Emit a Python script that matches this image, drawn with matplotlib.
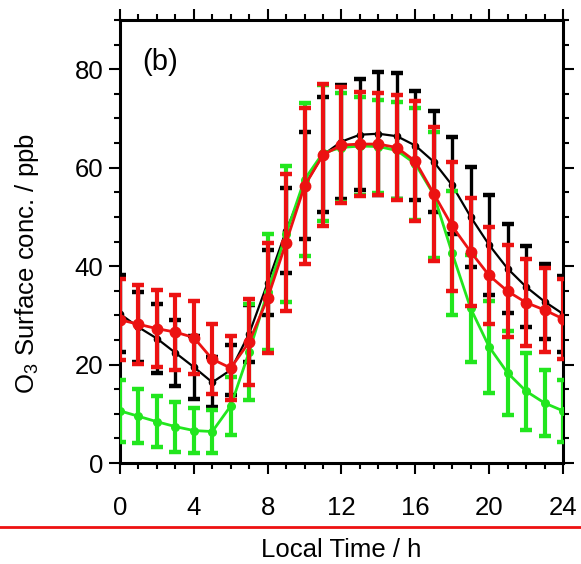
import numpy as np
import matplotlib.pyplot as plt
from matplotlib.ticker import MultipleLocator
from matplotlib.lines import Line2D

plt.rcParams['font.family'] = ['Liberation Sans', 'DejaVu Sans']
plt.rcParams['mathtext.default'] = 'regular'

# Local time (h)
hours = np.arange(0, 25)

# Black series: mean and error bars
black_mean = [30.3, 27.6, 25.3, 22.4, 19.5, 16.4, 18.9, 26.3, 36.6, 47.2, 56.4, 62.6, 65.3,
              66.7, 66.9, 66.4, 64.5, 61.2, 56.4, 50.0, 44.3, 39.5, 35.8, 32.8, 30.3]
black_err = [7.8, 7.1, 7.1, 6.7, 6.4, 5.1, 5.1, 5.8, 6.6, 8.6, 10.9, 11.7, 11.6,
             11.3, 12.5, 12.8, 11.1, 10.3, 9.9, 10.1, 10.1, 9.0, 8.2, 7.6, 7.7]

# Green series
green_mean = [10.6, 9.5, 8.4, 7.4, 6.6, 6.4, 11.6, 22.6, 34.8, 46.6, 57.6, 63.0, 64.1,
              64.4, 64.3, 63.5, 60.8, 54.5, 42.6, 31.4, 23.6, 18.3, 14.6, 12.2, 10.6]
green_err = [6.3, 5.5, 5.2, 5.1, 4.6, 4.3, 5.9, 9.8, 11.8, 13.8, 15.6, 13.8, 11.0,
             10.0, 9.5, 9.9, 11.4, 12.8, 12.6, 10.8, 9.3, 8.6, 7.8, 6.8, 6.3]

# Red series
red_mean = [29.1, 28.2, 27.3, 26.6, 25.5, 21.1, 19.3, 24.6, 33.5, 44.8, 56.3, 62.6, 64.6,
            64.8, 64.8, 64.1, 61.3, 54.7, 48.1, 42.9, 38.1, 34.9, 32.6, 31.1, 29.3]
red_err = [8.2, 8.0, 7.8, 7.6, 7.4, 7.1, 6.5, 8.8, 11.2, 14.0, 15.9, 14.4, 11.8,
           10.5, 10.3, 10.6, 12.2, 13.6, 13.1, 11.0, 9.9, 9.3, 8.8, 8.5, 8.1]

fig = plt.figure(figsize=(5.81, 5.64), dpi=100)
ax = fig.add_axes([0.2065, 0.179, 0.7625, 0.7855])

ax.errorbar(hours, black_mean, yerr=black_err, color='black', marker='o', ms=4.5,
            lw=1.6, elinewidth=2.4, capsize=4.4, capthick=3.2, zorder=2)
ax.errorbar(hours, green_mean, yerr=green_err, color='#22e61e', marker='o', ms=5.5,
            lw=2.0, elinewidth=3, capsize=4.4, capthick=3.2, zorder=3)
ax.errorbar(hours, red_mean, yerr=red_err, color='#ec1212', marker='o', ms=7.5,
            lw=2.0, elinewidth=3, capsize=4.4, capthick=3.2, zorder=4)

ax.set_xlim(0, 24)
ax.set_ylim(0, 90)
ax.xaxis.set_major_locator(MultipleLocator(4))
ax.xaxis.set_minor_locator(MultipleLocator(1))
ax.yaxis.set_major_locator(MultipleLocator(20))
ax.yaxis.set_minor_locator(MultipleLocator(5))
ax.tick_params(which='both', direction='out', top=True, right=True, width=1.5,
               labelsize=18.5)
ax.tick_params(which='major', length=8)
ax.tick_params(which='minor', length=4.5)
ax.tick_params(axis='x', pad=16)
ax.tick_params(axis='y', pad=4)
for s in ax.spines.values():
    s.set_linewidth(2.2)

ax.set_xlabel('Local Time / h', fontsize=18.5, va='center')
ax.xaxis.set_label_coords(0.5, -0.197)
ax.set_ylabel('O$_3$ Surface conc. / ppb', fontsize=18.5)
ax.yaxis.set_label_coords(-0.178, 0.45)

ax.text(0.05, 0.905, '(b)', transform=ax.transAxes, fontsize=21, va='center')

# red separator line under the tick labels
fig.add_artist(Line2D([0, 1], [1 - 527 / 564, 1 - 527 / 564], transform=fig.transFigure,
                      color='#ee1111', lw=2))

fig.savefig('out.png', dpi=100)
